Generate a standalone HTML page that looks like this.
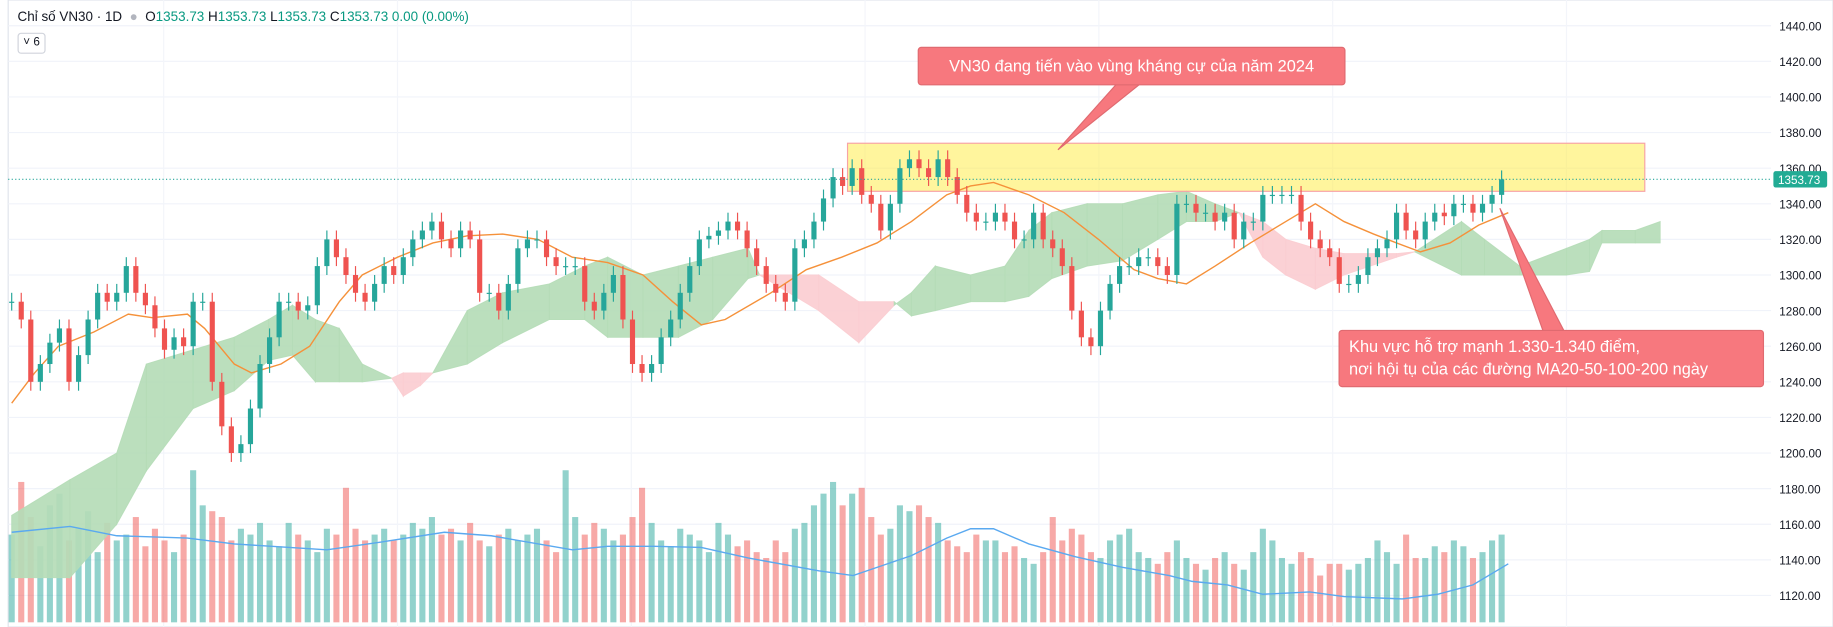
<!DOCTYPE html>
<html><head><meta charset="utf-8"><style>
html,body{margin:0;padding:0;background:#fff;overflow:hidden;width:1833px;height:627px}
#wrap{position:absolute;left:0;top:0;width:1568px;height:536px;transform-origin:0 0;transform:scale(1.16901,1.16978);font-family:"Liberation Sans","DejaVu Sans",sans-serif}
.hdr{position:absolute;left:15px;top:9px;font-size:11.5px;color:#131722;white-space:nowrap}
.hdr .g{color:#089981}
.tog{position:absolute;left:15px;top:28px;width:22px;height:16px;border:1px solid #d1d4dc;border-radius:3px;font-size:10px;line-height:16px;text-align:center;color:#131722;background:#fff}
.note{position:absolute;background:#f7787e;color:#fff;font-size:14px;border:1px solid #e06a70;border-radius:3px;box-sizing:border-box}
</style></head><body>
<div id="wrap">
<svg id="svg" width="1568" height="536" style="position:absolute;left:0;top:0"></svg>
<div class="hdr">Chỉ số VN30 · 1D &nbsp;<span style="color:#b2b5be">●</span>&nbsp; O<span class="g">1353.73</span> H<span class="g">1353.73</span> L<span class="g">1353.73</span> C<span class="g">1353.73 0.00 (0.00%)</span></div>
<div class="tog">˅ 6</div>
<div class="note" style="left:785px;top:40px;width:366px;height:33px;line-height:31px;text-align:center">VN30 đang tiến vào vùng kháng cự của năm 2024</div>
<div class="note" style="left:1145px;top:282px;width:364px;height:49px;padding:4px 0 0 8px;line-height:19px">Khu vực hỗ trợ mạnh 1.330-1.340 điểm,<br>nơi hội tụ của các đường MA20-50-100-200 ngày</div>
</div>
<script>
const closes=[1285,1275,1240,1250,1262,1270,1240,1255,1275,1290,
1285,1290,1305,1290,1283,1270,1258,1265,1260,1285,
1285,1240,1215,1200,1205,1225,1250,1265,1285,1285,
1280,1283,1305,1320,1310,1300,1290,1285,1295,1305,
1300,1310,1320,1325,1330,1320,1315,1325,1320,1290,
1290,1280,1295,1315,1320,1320,1310,1305,1305,1305,
1285,1280,1290,1300,1275,1250,1245,1250,1265,1275,
1290,1305,1320,1322,1325,1330,1325,1315,1305,1295,
1290,1285,1315,1320,1330,1343,1355,1350,1360,1345,
1340,1325,1340,1360,1365,1360,1355,1365,1355,1345,
1335,1330,1330,1335,1330,1320,1320,1335,1320,1315,
1305,1280,1265,1260,1280,1295,1305,1305,1310,1310,
1305,1300,1340,1340,1335,1335,1330,1335,1320,1330,
1330,1345,1345,1345,1345,1330,1320,1315,1310,1295,
1295,1300,1310,1315,1320,1335,1325,1320,1330,1335,
1333,1340,1340,1335,1340,1345,1353.73];
const volumes=[75,120,90,65,100,110,70,80,95,60,
85,70,75,90,65,80,70,60,75,130,
100,95,90,70,80,75,85,70,65,85,
75,70,60,80,75,115,80,70,75,80,
70,75,85,80,90,75,80,70,85,70,
65,75,80,70,75,80,70,60,130,90,
75,85,80,70,75,90,115,85,70,65,
80,75,70,60,85,75,65,70,60,55,
70,60,80,85,100,110,120,100,110,115,
90,75,80,100,95,100,90,85,70,65,
60,75,70,70,60,65,55,50,60,90,
70,80,75,60,55,70,75,80,60,55,
50,60,70,55,50,45,55,60,50,45,
60,80,70,55,50,60,55,40,50,50,
45,50,55,70,60,50,75,55,55,65,
60,70,65,55,60,70,75];
const cloudIdx=[0,6.1,11,14.1,19,23.3,26.9,29.4,31.8,34.3,36.7,39.8,41,42.8,44.1,47.7,51.4,56.3,60,62.4,66.1,69.8,73.4,77.1,78.3,84.5,88.7,92.4,94.2,96.7,100.4,104,106.5,108.9,112.6,116.3,120,123,126,128.5,131,133.4,136.5,139.5,145,146.9,151.8,154.2,157.9,162.8,165.2,166.5,170,172.6];
const spanA=[1165,1185,1200,1250,1258,1265,1275,1283,1275,1270,1250,1242,1232,1238,1245,1280,1290,1295,1305,1310,1300,1305,1310,1315,1300,1280,1262,1283,1290,1305,1300,1305,1325,1335,1340,1340,1345,1347,1340,1335,1310,1300,1292,1300,1310,1313,1330,1320,1305,1315,1320,1325,1325,1330];
const spanB=[1130,1130,1160,1190,1225,1235,1252,1255,1240,1240,1240,1242,1245,1245,1245,1250,1262,1275,1275,1265,1265,1265,1275,1298,1300,1300,1285,1285,1277,1280,1285,1285,1288,1298,1305,1308,1320,1330,1330,1335,1330,1320,1315,1312,1312,1313,1300,1300,1300,1300,1302,1318,1318,1318];
const maIdx=[0,2.4,4.9,8.6,12.2,14.7,18.4,20.2,23.3,25.1,28.2,31.2,34.3,36.7,40.4,44.1,47.7,51.4,55.1,58.7,62.4,66.1,69.2,72.2,74.7,79.5,83.2,86.9,90.6,94.2,97.9,100.4,102.8,106.5,110.2,113.8,117.5,120,123,126,129.7,133.4,136.5,139.5,142.6,145,147.5,150.6,153.6,156.7];
const maVals=[1228,1245,1260,1268,1278,1276,1278,1270,1250,1245,1250,1260,1285,1300,1310,1318,1322,1323,1320,1310,1307,1300,1285,1272,1275,1290,1303,1310,1318,1330,1345,1350,1352,1345,1335,1320,1303,1298,1295,1305,1318,1330,1340,1330,1323,1318,1313,1318,1328,1335];
const volMaIdx=[0,6.1,11,18.4,23.3,33,39,45.3,50.2,58.7,62.4,67.3,72.2,77.1,84.5,88.1,94.2,97.9,100.4,102.8,106.5,111.4,116.3,121.2,123.6,127.3,131,135.9,139.5,145.6,149.3,153,156.7];
const volMaVals=[77,82,74,72,67,62,69,77,74,62,65,65,64,55,44,40,57,72,80,80,67,56,47,40,35,32,24,26,22,20,24,32,50];
const yTicks=[1440,1420,1400,1380,1360,1340,1320,1300,1280,1260,1240,1220,1200,1180,1160,1140,1120];
const lastPrice=1353.73;
const zoneTop=1374, zoneBottom=1347;

const NS='http://www.w3.org/2000/svg';
const svg=document.getElementById('svg');
const X=i=>10+i*8.17;
const Y=p=>22+(1440-p)*1.522;
const VY=v=>532-v;
function mk(tag,attrs,parent){const e=document.createElementNS(NS,tag);for(const k in attrs)e.setAttribute(k,attrs[k]);(parent||svg).appendChild(e);return e;}
let e=mk('rect',{x:7,y:0,width:1561,height:536,fill:'none',stroke:'#e0e3eb'});


for(const t of yTicks){
 e=mk('line',{x1:7,x2:1515,y1:Y(t),y2:Y(t),stroke:'#f0f3fa'});
 
 
 e=mk('text',{x:1522,y:Y(t)+4,'font-size':10,fill:'#131722','font-family':'Liberation Sans, sans-serif'});
 e.textContent=t.toFixed(2);
 
 
}
for(let gx=140;gx<1515;gx+=200){
 e=mk('line',{x1:gx,x2:gx,y1:0,y2:536,stroke:'#f3f5fa'});
 
 
}
closes.forEach((c,i)=>{
 const o=i?closes[i-1]:c;
 const up=c>=o;
 e=mk('rect',{x:X(i)-2.6,y:VY(volumes[i]),width:5.2,height:volumes[i],fill:up?'rgba(38,166,154,0.5)':'rgba(239,83,80,0.5)'});
 
 
});
for(let k=0;k<cloudIdx.length-1;k++){
 const a0=spanA[k],a1=spanA[k+1],b0=spanB[k],b1=spanB[k+1];
 const green=(a0+a1)>=(b0+b1);
 const col=green?'#b5dcb7':'#fbcdd1';
 const pts=[[X(cloudIdx[k]),Y(a0)],[X(cloudIdx[k+1]),Y(a1)],[X(cloudIdx[k+1]),Y(b1)],[X(cloudIdx[k]),Y(b0)]].map(p=>p.join(',')).join(' ');
 e=mk('polygon',{points:pts,fill:col,stroke:col,'stroke-width':0.8,'fill-opacity':0.92,'stroke-opacity':0.92});
 
 
}
e=mk('rect',{x:725,y:Y(zoneTop),width:682,height:Y(zoneBottom)-Y(zoneTop),fill:'rgba(255,235,59,0.5)',stroke:'#f7a3a6','stroke-width':1});


e=mk('polyline',{points:maIdx.map((ix,k)=>X(ix)+','+Y(maVals[k])).join(' '),fill:'none',stroke:'#f5913a','stroke-width':1.2});


e=mk('polyline',{points:volMaIdx.map((ix,k)=>X(ix)+','+VY(volMaVals[k])).join(' '),fill:'none',stroke:'#5aa9f0','stroke-width':1.2});


closes.forEach((c,i)=>{
 const o=i?closes[i-1]:c;
 const up=c>=o;const col=up?'#26a69a':'#ef5350';
 const hi=Math.max(o,c)+5,lo=Math.min(o,c)-5;
 const g=mk('g',{});
 
 
 mk('line',{x1:X(i),x2:X(i),y1:Y(hi),y2:Y(lo),stroke:col,'stroke-width':1},g);
 mk('rect',{x:X(i)-2.2,y:Y(Math.max(o,c)),width:4.4,height:Math.max(1,Math.abs(Y(o)-Y(c))),fill:col},g);
});
e=mk('line',{x1:7,x2:1515,y1:Y(lastPrice),y2:Y(lastPrice),stroke:'#26a69a','stroke-dasharray':'1,2','stroke-width':1});


e=mk('rect',{x:1517,y:Y(lastPrice)-7,width:46,height:14,fill:'#22ab94',rx:2});


e=mk('text',{x:1521,y:Y(lastPrice)+4,'font-size':10,fill:'#fff','font-family':'Liberation Sans, sans-serif'});
e.textContent=lastPrice.toFixed(2);


e=mk('polygon',{points:'955,72 975,72 905,128',fill:'#f7787e',stroke:'#e06a70'});


e=mk('polygon',{points:'1320,283 1338,283 1283,178',fill:'#f7787e',stroke:'#e06a70'});


</script>
</body></html>
